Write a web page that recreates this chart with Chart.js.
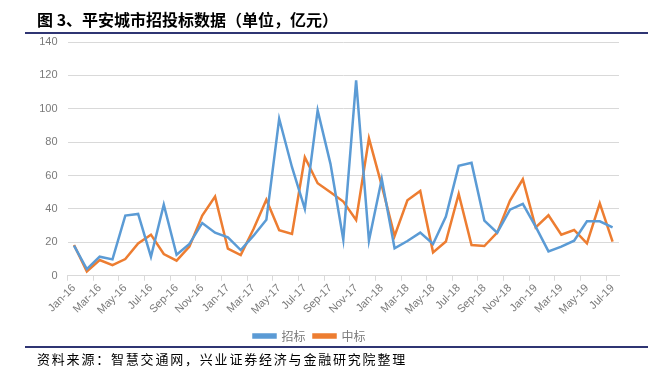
<!DOCTYPE html>
<html>
<head>
<meta charset="utf-8">
<script src="https://cdn.jsdelivr.net/npm/chart.js@4.4.1/dist/chart.umd.min.js"></script>
<style>
  html, body { margin: 0; padding: 0; background: #fff; }
  #wrap { position: relative; width: 652px; height: 376px; overflow: hidden; }
  #chart { position: absolute; left: 0; top: 0; }
  .title { position: absolute; left: 37px; top: 7px; font: bold 16px "Noto Sans CJK SC", sans-serif; color: #000; white-space: nowrap; }
  .rule { position: absolute; left: 25px; width: 623px; height: 2px; background: #2f3573; }
  .source { position: absolute; left: 37px; top: 349px; font: 13px "Noto Sans CJK SC", sans-serif; letter-spacing: 1.8px; color: #000; white-space: nowrap; }
</style>
</head>
<body>
<div id="wrap">
  <canvas id="chart" width="652" height="376"></canvas>
  <div class="title">图 3、平安城市招投标数据（单位，亿元）</div>
  <div class="rule" style="top:32px"></div>
  <div class="rule" style="top:346px"></div>
  <div class="source">资料来源：智慧交通网，兴业证券经济与金融研究院整理</div>
</div>
<script>
// month labels Jan-16 .. Jul-19
var months = [
  "Jan-16", "Feb-16", "Mar-16", "Apr-16", "May-16", "Jun-16", "Jul-16", "Aug-16", "Sep-16", "Oct-16", "Nov-16", "Dec-16",
  "Jan-17", "Feb-17", "Mar-17", "Apr-17", "May-17", "Jun-17", "Jul-17", "Aug-17", "Sep-17", "Oct-17", "Nov-17", "Dec-17",
  "Jan-18", "Feb-18", "Mar-18", "Apr-18", "May-18", "Jun-18", "Jul-18", "Aug-18", "Sep-18", "Oct-18", "Nov-18", "Dec-18",
  "Jan-19", "Feb-19", "Mar-19", "Apr-19", "May-19", "Jun-19", "Jul-19"
];

// 招标 (bidding), 亿元
var zhaobiao = [
  18, 4, 11.4, 9.8, 36, 37, 11.4, 42.6, 12.6, 19, 31.6, 25.8,
  23, 15.4, 24, 33.5, 94, 65, 40, 99, 67, 21.6, 117, 21,
  58, 16.4, 20.8, 25.8, 19, 35.4, 65.8, 67.6, 33, 25.8, 39.6, 43,
  29.4, 14.6, 17.4, 21, 32.6, 32.6, 29
];

// 中标 (winning bids), 亿元
var zhongbiao = [
  18.4, 2.6, 9.4, 6.4, 10, 19.4, 24.6, 13, 9, 17.4, 36, 47.4,
  16.2, 12.4, 28, 45.5, 27.2, 25, 71, 55.4, 50, 44.4, 33.4, 82.3,
  54, 23.8, 45.2, 50.8, 14, 20.5, 49, 18.4, 17.8, 25.8, 45, 57.8,
  29, 36.2, 24.6, 27.4, 19.4, 43.4, 20.4
];

var yTicks = [0, 20, 40, 60, 80, 100, 120, 140];

var tickFont = { family: "Liberation Sans", size: 11 };
var gray = "#7a7a7a";

var ctx = document.getElementById("chart");
var myChart = new Chart(ctx, {
  type: "line",
  data: {
    labels: months,
    datasets: [
      {
        label: "招标",
        data: zhaobiao,
        borderColor: "#5b9bd5",
        backgroundColor: "#5b9bd5",
        borderWidth: 2.5,
        pointRadius: 0,
        tension: 0,
      },
      {
        label: "中标",
        data: zhongbiao,
        borderColor: "#ed7d31",
        backgroundColor: "#ed7d31",
        borderWidth: 2.5,
        pointRadius: 0,
        tension: 0,
      },
    ],
  },
  options: {
    responsive: false,
    animation: false,
    events: [],
    layout: {
      padding: { left: 0, right: 33, top: 42, bottom: 24 },
    },
    plugins: {
      legend: {
        position: "bottom",
        labels: {
          boxWidth: 22,
          boxHeight: 3,
          padding: 8,
          color: gray,
          font: { family: "Noto Sans CJK SC", size: 12 },
        },
      },
      tooltip: { enabled: false },
    },
    scales: {
      x: {
        offset: true,
        afterFit: function (scale) {
          scale.height += 4;
        },
        grid: {
          offset: true,
          drawOnChartArea: false,
          tickLength: 5,
          color: function (c) {
            return c.index % 2 === 0 ? "#d9d9d9" : "rgba(0,0,0,0)";
          },
        },
        border: { color: "#d9d9d9", width: 1 },
        ticks: {
          autoSkip: false,
          maxRotation: 45,
          minRotation: 45,
          padding: 1,
          color: gray,
          font: tickFont,
          callback: function (value, index) {
            return index % 2 === 0 ? months[index] : "";
          },
        },
      },
      y: {
        min: 0,
        max: 140,
        afterFit: function (scale) {
          scale.width = 67.6;
        },
        afterBuildTicks: function (scale) {
          scale.ticks = yTicks.map(function (v) { return { value: v }; });
        },
        grid: { color: "#d9d9d9", drawTicks: false },
        border: { display: false },
        ticks: {
          padding: 10,
          color: gray,
          font: tickFont,
        },
      },
    },
  },
});
</script>
</body>
</html>
